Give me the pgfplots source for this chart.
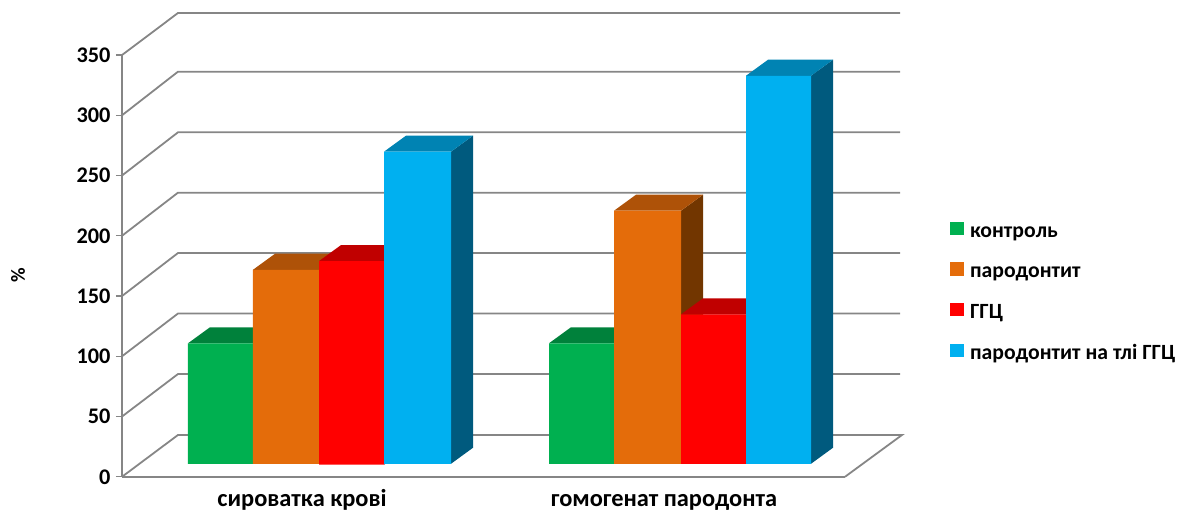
\documentclass[border=0pt]{standalone}
\usepackage{fontspec}
\setmainfont{Carlito}
\usepackage{pgfplots}
\pgfplotsset{compat=1.18}
\definecolor{axisgray}{HTML}{868686}
\definecolor{greenfront}{HTML}{00B050}
\definecolor{greentop}{HTML}{00813B}
\definecolor{greenside}{HTML}{005F2B}
\definecolor{orangefront}{HTML}{E46C0A}
\definecolor{orangetop}{HTML}{AE5208}
\definecolor{orangeside}{HTML}{723600}
\definecolor{redfront}{HTML}{FF0000}
\definecolor{redtop}{HTML}{C00000}
\definecolor{redside}{HTML}{800000}
\definecolor{bluefront}{HTML}{00B0F0}
\definecolor{bluetop}{HTML}{0083B3}
\definecolor{blueside}{HTML}{005A7E}
% One column: left edge, right edge, value, floor level, colour family.
% Side and top faces are offset by the depth of the 3-D box.
\newcommand{\solidbar}[5]{%
  \pgfmathsetmacro{\ytop}{#4+#3}%
  \pgfmathsetmacro{\ytopb}{#4+#3+13.3}%
  \pgfmathsetmacro{\ybaseb}{#4+13.3}%
  \pgfmathsetmacro{\xrb}{#2+22}%
  \pgfmathsetmacro{\xlb}{#1+22}%
  \addplot[forget plot,draw=none,fill=#5side] coordinates {(#2,#4)(\xrb,\ybaseb)(\xrb,\ytopb)(#2,\ytop)(#2,#4)};
  \addplot[forget plot,draw=none,fill=#5top] coordinates {(#1,\ytop)(#2,\ytop)(\xrb,\ytopb)(\xlb,\ytopb)(#1,\ytop)};
  \addplot[forget plot,draw=none,fill=#5front] coordinates {(#1,#4)(#2,#4)(#2,\ytop)(#1,\ytop)(#1,#4)};
}
\begin{document}
\begin{tikzpicture}
\path[use as bounding box] (-122pt,-33.2pt) rectangle (1064pt,476.8pt);
\begin{axis}[
  scale only axis, width=723pt, height=421.75pt,
  xmin=122, xmax=845, ymin=0, ymax=350,
  clip=false,
  axis x line=bottom, axis y line=left,
  axis line style={axisgray,line width=1.8pt,-},
  x axis line style={-}, y axis line style={-},
  xtick={302,664}, xticklabels={сироватка крові,гомогенат пародонта},
  ytick={0,50,...,350},
  major tick length=6pt,
  xtick style={draw=none},
  ytick style={axisgray,line width=1.4pt},
  tick align=outside,
  /pgf/number format/assume math mode=true,
  xticklabel style={font=\bfseries\fontsize{24.4}{26}\selectfont,inner sep=0pt,text height=15pt,text depth=3pt,yshift=-9pt},
  yticklabel style={font=\bfseries\fontsize{22.3}{24}\selectfont,xshift=-2pt},
  ylabel={\%},
  every axis y label/.style={at={(axis description cs:-0.1438,0.479)},rotate=90,anchor=center,font=\bfseries\fontsize{20}{24}\selectfont},
  legend cell align=left,
  legend style={at={(axis cs:950,212)},anchor=north west,draw=none,fill=none,
    font=\bfseries\fontsize{21.7}{24}\selectfont,row sep=21pt,inner sep=0pt,
    nodes={inner sep=0pt,text height=14pt,text depth=4pt},
    /tikz/every odd column/.append style={column sep=7pt}},
  legend image code/.code={\fill[#1] (0pt,-2pt) rectangle (12.5pt,10.5pt);},
]
% Floor, side wall and back wall grid lines
\addplot[forget plot,axisgray,line width=1.8pt,unbounded coords=jump] coordinates {
 (122,0)(178,34.7)(902,34.7)(845,0) (nan,nan)
 (122,50)(178,85.3)(900,85.3) (nan,nan)
 (122,100)(178,135.5)(900,135.5) (nan,nan)
 (122,150)(178,185.7)(900,185.7) (nan,nan)
 (122,200)(178,235.8)(900,235.8) (nan,nan)
 (122,250)(178,285.9)(900,285.9) (nan,nan)
 (122,300)(178,336.2)(900,336.2) (nan,nan)
 (122,350)(178,384.9)(900,384.9)
};
% сироватка крові
\solidbar{188}{253}{100}{10.8}{green}
\solidbar{253}{319}{161}{10.8}{orange}
\solidbar{319}{384}{169}{10}{red}
\solidbar{384}{451}{259}{10.8}{blue}
% гомогенат пародонта
\solidbar{549}{614}{100}{10.8}{green}
\solidbar{614}{681}{210}{10.8}{orange}
\solidbar{681}{746}{124}{10.8}{red}
\solidbar{746}{811}{322}{10.8}{blue}
\addlegendimage{greenfront}\addlegendentry{контроль}
\addlegendimage{orangefront}\addlegendentry{пародонтит}
\addlegendimage{redfront}\addlegendentry{ГГЦ}
\addlegendimage{bluefront}\addlegendentry{пародонтит на тлі ГГЦ}
\end{axis}
\end{tikzpicture}
\end{document}
